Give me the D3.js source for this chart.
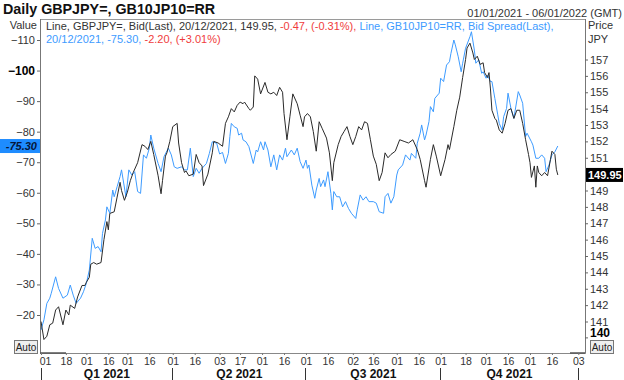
<!DOCTYPE html>
<html><head><meta charset="utf-8">
<script src="https://cdn.jsdelivr.net/npm/d3@7"></script>
<style>
body{margin:0;background:#fff;}
svg{display:block;font-family:"Liberation Sans",Arial,sans-serif;}
</style>
</head><body>
<svg id="c" width="624" height="380"></svg>
<script>
// GBPJPY= Bid(Last), right axis (JPY)
const gbpDates = ["2021-01-01","2021-01-03","2021-01-05","2021-01-07","2021-01-09","2021-01-11","2021-01-13","2021-01-16","2021-01-18","2021-01-20","2021-01-21","2021-01-24","2021-01-26","2021-01-29","2021-01-31","2021-02-01","2021-02-03","2021-02-04","2021-02-06","2021-02-08","2021-02-11","2021-02-13","2021-02-15","2021-02-16","2021-02-17","2021-02-20","2021-02-22","2021-02-24","2021-02-25","2021-02-27","2021-03-01","2021-03-03","2021-03-05","2021-03-08","2021-03-11","2021-03-13","2021-03-15","2021-03-17","2021-03-19","2021-03-22","2021-03-24","2021-03-25","2021-03-27","2021-03-28","2021-03-30","2021-04-01","2021-04-04","2021-04-05","2021-04-07","2021-04-09","2021-04-10","2021-04-12","2021-04-15","2021-04-17","2021-04-19","2021-04-21","2021-04-22","2021-04-25","2021-04-28","2021-04-29","2021-05-02","2021-05-05","2021-05-07","2021-05-09","2021-05-11","2021-05-13","2021-05-15","2021-05-17","2021-05-19","2021-05-20","2021-05-23","2021-05-24","2021-05-26","2021-05-27","2021-05-29","2021-05-31","2021-06-03","2021-06-05","2021-06-07","2021-06-09","2021-06-11","2021-06-13","2021-06-15","2021-06-16","2021-06-18","2021-06-20","2021-06-22","2021-06-25","2021-06-27","2021-06-29","2021-06-30","2021-07-02","2021-07-04","2021-07-06","2021-07-08","2021-07-10","2021-07-12","2021-07-15","2021-07-17","2021-07-19","2021-07-20","2021-07-23","2021-07-25","2021-07-27","2021-07-29","2021-07-31","2021-08-02","2021-08-04","2021-08-06","2021-08-08","2021-08-10","2021-08-12","2021-08-14","2021-08-16","2021-08-18","2021-08-20","2021-08-22","2021-08-24","2021-08-26","2021-08-28","2021-08-31","2021-09-03","2021-09-06","2021-09-09","2021-09-12","2021-09-15","2021-09-17","2021-09-20","2021-09-21","2021-09-24","2021-09-26","2021-09-28","2021-10-01","2021-10-04","2021-10-06","2021-10-07","2021-10-10","2021-10-12","2021-10-14","2021-10-16","2021-10-18","2021-10-19","2021-10-21","2021-10-23","2021-10-24","2021-10-26","2021-10-28","2021-10-30","2021-10-31","2021-11-02","2021-11-03","2021-11-04","2021-11-05","2021-11-07","2021-11-08","2021-11-10","2021-11-12","2021-11-14","2021-11-16","2021-11-18","2021-11-20","2021-11-22","2021-11-24","2021-11-26","2021-11-28","2021-11-30","2021-12-01","2021-12-02","2021-12-04","2021-12-05","2021-12-06","2021-12-07","2021-12-09","2021-12-11","2021-12-13","2021-12-15","2021-12-16","2021-12-18","2021-12-19","2021-12-20"];
const gbpValues = [141.0,139.9,140.1,140.8,140.9,141.7,141.9,140.8,141.7,141.4,142.0,141.8,142.5,143.2,143.2,143.4,143.7,144.5,144.6,144.5,144.6,146.0,147.1,146.6,147.6,147.7,148.6,149.5,149.0,148.4,148.9,149.6,150.1,150.7,151.8,151.7,151.5,152.0,151.2,149.9,148.8,149.6,151.1,151.3,152.0,152.9,153.1,151.9,150.7,150.1,150.2,149.9,150.0,151.2,150.7,150.5,149.3,150.0,151.3,152.0,151.9,151.7,153.1,153.5,154.0,153.8,154.2,154.4,154.3,154.4,154.0,153.9,154.1,156.0,155.8,154.9,155.6,155.0,154.9,155.0,154.8,155.3,155.0,153.7,152.1,153.5,154.9,154.3,153.6,152.9,153.5,153.7,153.5,152.6,151.4,153.2,152.8,152.2,151.3,149.6,150.7,151.8,152.3,152.6,152.9,152.3,151.8,152.3,152.9,152.7,153.2,153.1,152.1,151.1,150.6,149.6,150.1,151.3,151.0,151.2,151.4,152.1,152.0,151.9,152.1,151.5,150.9,149.6,149.2,150.9,151.8,151.1,149.9,150.9,151.8,151.5,152.9,153.9,154.7,155.9,157.0,157.7,158.0,157.4,157.0,157.2,156.7,156.8,156.2,155.9,156.2,155.2,153.9,153.4,153.3,152.7,152.5,153.1,153.9,154.0,153.4,153.9,153.9,153.1,152.1,151.2,150.7,149.8,150.5,149.2,150.5,150.1,149.9,150.1,149.9,150.9,151.4,151.2,150.3,149.95];

// GB10JP10=RR Bid Spread(Last), left axis (Value)
const sprDates = ["2021-01-01","2021-01-03","2021-01-05","2021-01-07","2021-01-08","2021-01-11","2021-01-13","2021-01-16","2021-01-19","2021-01-21","2021-01-23","2021-01-25","2021-01-28","2021-01-30","2021-02-01","2021-02-03","2021-02-05","2021-02-07","2021-02-09","2021-02-11","2021-02-12","2021-02-14","2021-02-15","2021-02-17","2021-02-19","2021-02-20","2021-02-22","2021-02-24","2021-02-25","2021-02-28","2021-03-02","2021-03-04","2021-03-06","2021-03-08","2021-03-10","2021-03-12","2021-03-14","2021-03-16","2021-03-17","2021-03-19","2021-03-22","2021-03-24","2021-03-26","2021-03-29","2021-03-31","2021-04-02","2021-04-04","2021-04-07","2021-04-09","2021-04-11","2021-04-13","2021-04-15","2021-04-17","2021-04-19","2021-04-21","2021-04-24","2021-04-26","2021-04-28","2021-05-01","2021-05-03","2021-05-05","2021-05-07","2021-05-09","2021-05-10","2021-05-11","2021-05-13","2021-05-15","2021-05-16","2021-05-18","2021-05-19","2021-05-21","2021-05-23","2021-05-26","2021-05-28","2021-05-29","2021-05-31","2021-06-02","2021-06-03","2021-06-05","2021-06-07","2021-06-09","2021-06-11","2021-06-13","2021-06-15","2021-06-17","2021-06-18","2021-06-21","2021-06-23","2021-06-25","2021-06-27","2021-06-29","2021-07-01","2021-07-02","2021-07-03","2021-07-05","2021-07-07","2021-07-08","2021-07-10","2021-07-11","2021-07-13","2021-07-14","2021-07-16","2021-07-18","2021-07-19","2021-07-20","2021-07-22","2021-07-24","2021-07-26","2021-07-28","2021-07-30","2021-08-01","2021-08-04","2021-08-05","2021-08-07","2021-08-09","2021-08-11","2021-08-13","2021-08-16","2021-08-18","2021-08-20","2021-08-23","2021-08-24","2021-08-26","2021-08-28","2021-08-30","2021-09-01","2021-09-02","2021-09-05","2021-09-07","2021-09-10","2021-09-11","2021-09-14","2021-09-15","2021-09-17","2021-09-18","2021-09-20","2021-09-21","2021-09-23","2021-09-24","2021-09-26","2021-09-27","2021-09-30","2021-10-01","2021-10-03","2021-10-05","2021-10-07","2021-10-08","2021-10-10","2021-10-11","2021-10-13","2021-10-15","2021-10-16","2021-10-18","2021-10-21","2021-10-22","2021-10-24","2021-10-25","2021-10-27","2021-10-29","2021-10-30","2021-11-01","2021-11-02","2021-11-04","2021-11-05","2021-11-07","2021-11-09","2021-11-10","2021-11-12","2021-11-13","2021-11-15","2021-11-16","2021-11-18","2021-11-20","2021-11-23","2021-11-24","2021-11-26","2021-11-28","2021-11-29","2021-12-02","2021-12-03","2021-12-05","2021-12-07","2021-12-09","2021-12-11","2021-12-12","2021-12-14","2021-12-16","2021-12-18","2021-12-20"];
const sprValues = [-15.1,-18.4,-23.8,-25.5,-27.1,-32.5,-28.7,-25.5,-26.5,-29.8,-26.5,-23.8,-25.5,-27.6,-30.4,-34.7,-45.1,-41.8,-42.4,-40.7,-46.7,-51.1,-55.4,-53.3,-60.9,-58.7,-62.0,-65.3,-67.5,-58.7,-67.5,-65.8,-66.9,-60.4,-59.8,-72.4,-71.3,-74.6,-78.9,-74.6,-69.6,-66.9,-71.8,-74.6,-72.4,-68.5,-68.0,-68.5,-67.5,-67.5,-74.6,-65.3,-68.0,-66.4,-68.0,-69.6,-72.9,-76.7,-76.2,-72.7,-73.2,-69.6,-72.9,-78.4,-82.7,-81.6,-81.1,-78.9,-79.5,-77.3,-76.7,-75.1,-69.6,-74.0,-73.4,-76.7,-74.0,-76.7,-74.0,-68.5,-72.4,-67.5,-72.4,-70.7,-74.6,-71.8,-74.0,-72.4,-74.6,-70.2,-68.0,-70.7,-68.0,-69.1,-62.5,-58.2,-60.9,-64.7,-62.0,-64.2,-62.0,-66.9,-59.8,-54.4,-60.4,-58.7,-58.7,-55.4,-57.1,-54.9,-53.3,-51.6,-54.4,-59.3,-57.6,-58.7,-57.1,-57.1,-56.6,-53.8,-53.3,-58.7,-59.8,-56.6,-58.7,-65.8,-67.5,-69.1,-72.4,-70.7,-72.9,-71.3,-76.2,-79.5,-82.2,-77.3,-78.9,-83.3,-88.2,-86.5,-90.9,-92.6,-97.5,-96.4,-101.8,-102.9,-105.6,-110.0,-108.4,-104.5,-99.6,-102.4,-107.3,-111.1,-112.7,-106.7,-102.4,-103.5,-99.1,-99.6,-97.5,-98.5,-96.4,-96.4,-90.9,-85.5,-82.7,-80.5,-84.9,-87.6,-92.6,-87.6,-84.4,-93.1,-92.0,-89.3,-78.4,-79.5,-76.7,-75.6,-71.3,-71.3,-72.4,-71.3,-66.9,-69.1,-72.4,-73.4,-75.30];

const valueTicks = [-110,-100,-90,-80,-70,-60,-50,-40,-30,-20];
const priceTicks = [141,142,143,144,145,146,147,148,149,151,152,153,154,155,156,157];
const xTickDates = ["2021-01-01","2021-01-18","2021-02-01","2021-02-16","2021-03-01","2021-03-16","2021-04-01","2021-04-16","2021-05-03","2021-05-17","2021-06-01","2021-06-16","2021-07-01","2021-07-16","2021-08-02","2021-08-16","2021-09-01","2021-09-16","2021-10-01","2021-10-18","2021-11-01","2021-11-16","2021-12-01","2021-12-16","2022-01-03"];
const quarterLabels = ["Q1 2021","Q2 2021","Q3 2021","Q4 2021"];
const quarterBounds = ["2021-01-01","2021-04-01","2021-07-01","2021-10-01","2022-01-03"];

const titleText = "Daily GBPJPY=, GB10JP10=RR";
const rangeText = "01/01/2021 - 06/01/2022 (GMT)";
const lastValue = -75.30, lastPrice = 149.95;

const parse = d3.utcParse("%Y-%m-%d");
const svg = d3.select("#c");
const L = 40, R = 585, T = 19, B = 353;

const x = d3.scaleUtc().domain([parse("2021-01-01"), parse("2022-01-03")]).range([41, 578.3]);
const yL = d3.scaleLinear().domain([-110, -20]).range([40, 315]);
const yR = d3.scaleLinear().domain([157, 141]).range([59.5, 321.5]);

const BLUE = "#3d9bff", BLACK = "#2a2a2a", RED = "#f03c3c", TXT = "#333";

// title
svg.append("text").attr("x", 3).attr("y", 13.5).attr("font-size", 14.3).attr("font-weight", "bold").attr("fill", "#111").text(titleText);
svg.append("text").attr("x", 622).attr("y", 17).attr("text-anchor", "end").attr("font-size", 11).attr("fill", TXT).text(rangeText);

// frame
svg.append("rect").attr("x", L).attr("y", T).attr("width", R - L).attr("height", B - T)
  .attr("fill", "none").attr("stroke", "#9a9a9a").attr("stroke-width", 1).attr("shape-rendering", "crispEdges");
svg.append("line").attr("x1", L).attr("x2", L).attr("y1", T).attr("y2", B).attr("stroke", "#777").attr("shape-rendering", "crispEdges");
svg.append("line").attr("x1", R).attr("x2", R).attr("y1", T).attr("y2", B).attr("stroke", "#777").attr("shape-rendering", "crispEdges");
svg.append("line").attr("x1", L).attr("x2", R).attr("y1", B).attr("y2", B).attr("stroke", "#888").attr("shape-rendering", "crispEdges");
svg.append("line").attr("x1", L).attr("x2", 66).attr("y1", B).attr("y2", B).attr("stroke", "#555").attr("stroke-width", 1.5);
svg.append("line").attr("x1", 570).attr("x2", R).attr("y1", B).attr("y2", B).attr("stroke", "#555").attr("stroke-width", 1.5);

// clip
svg.append("clipPath").attr("id", "clip").append("rect").attr("x", L + 0.5).attr("y", T + 0.5).attr("width", R - L - 1).attr("height", B - T - 1);

// lines
const gbp = gbpDates.map((d, i) => ({ d: parse(d), v: gbpValues[i] }));
const spr = sprDates.map((d, i) => ({ d: parse(d), v: sprValues[i] }));
const plot = svg.append("g").attr("clip-path", "url(#clip)");
plot.append("path").datum(spr).attr("fill", "none").attr("stroke", BLUE).attr("stroke-width", 1)
  .attr("d", d3.line().x(p => x(p.d)).y(p => yL(p.v)));
plot.append("path").datum(gbp).attr("fill", "none").attr("stroke", BLACK).attr("stroke-width", 1)
  .attr("d", d3.line().x(p => x(p.d)).y(p => yR(p.v)));

// legend
const lg = svg.append("text").attr("x", 46).attr("y", 30).attr("font-size", 11);
lg.append("tspan").attr("fill", TXT).text("Line, GBPJPY=, Bid(Last), 20/12/2021, 149.95, ");
lg.append("tspan").attr("fill", RED).text("-0.47, (-0.31%), ");
lg.append("tspan").attr("fill", BLUE).text("Line, GB10JP10=RR, Bid Spread(Last),");
const lg2 = svg.append("text").attr("x", 46).attr("y", 43).attr("font-size", 11);
lg2.append("tspan").attr("fill", BLUE).text("20/12/2021, -75.30, ");
lg2.append("tspan").attr("fill", RED).text("-2.20, (+3.01%)");

// left axis
svg.append("text").attr("x", 37).attr("y", 29).attr("text-anchor", "end").attr("font-size", 11).attr("fill", TXT).text("Value");
const la = svg.append("g").attr("transform", `translate(${L},0)`)
  .call(d3.axisLeft(yL).tickValues(valueTicks).tickSize(3).tickPadding(2).tickFormat(d3.format("d")));
la.select(".domain").remove();
la.selectAll(".tick line").attr("stroke", "#666");
la.selectAll(".tick text").attr("font-size", 11).attr("fill", TXT).attr("font-family", null)
  .filter(d => d === -100).attr("font-weight", "bold").attr("fill", "#000").attr("font-size", 12);

// right axis
svg.append("text").attr("x", 588).attr("y", 29).attr("font-size", 11).attr("fill", TXT).text("Price");
svg.append("text").attr("x", 588).attr("y", 43).attr("font-size", 11).attr("fill", TXT).text("JPY");
const ra = svg.append("g").attr("transform", `translate(${R},0)`)
  .call(d3.axisRight(yR).tickValues(priceTicks).tickSize(3).tickPadding(2).tickFormat(d3.format("d")));
ra.select(".domain").remove();
ra.selectAll(".tick line").attr("stroke", "#666");
ra.selectAll(".tick text").attr("font-size", 11).attr("fill", TXT).attr("font-family", null);
svg.append("line").attr("x1", R).attr("x2", R + 3).attr("y1", yR(140)).attr("y2", yR(140)).attr("stroke", "#666");
svg.append("text").attr("x", 590).attr("y", 337).attr("font-size", 12).attr("font-weight", "bold").attr("fill", "#000").text("140");

// last value markers
const yv = yL(lastValue);
svg.append("rect").attr("x", 0).attr("y", yv - 7).attr("width", L).attr("height", 14).attr("fill", "#1e8cff");
svg.append("text").attr("x", 37).attr("y", yv + 4).attr("text-anchor", "end").attr("font-size", 11)
  .attr("font-weight", "bold").attr("font-style", "italic").attr("fill", "#05163a").text(lastValue.toFixed(2));
const yp = yR(lastPrice);
svg.append("rect").attr("x", R + 1).attr("y", yp - 7).attr("width", 37).attr("height", 14).attr("fill", "#000");
svg.append("text").attr("x", R + 3).attr("y", yp + 4).attr("font-size", 11).attr("font-weight", "bold").attr("fill", "#fff").text(lastPrice.toFixed(2));

// Auto buttons
[[14, 340], [590, 340]].forEach(([bx, by]) => {
  svg.append("rect").attr("x", bx + 0.5).attr("y", by + 0.5).attr("width", 23).attr("height", 13)
    .attr("fill", "#efefef").attr("stroke", "#777");
  svg.append("text").attr("x", bx + 12).attr("y", by + 10.5).attr("text-anchor", "middle").attr("font-size", 10).attr("fill", "#222").text("Auto");
});

// bottom axis
const xt = xTickDates.map(parse);
const ba = svg.append("g").attr("transform", `translate(0,${B})`)
  .call(d3.axisBottom(x).tickValues(xt).tickSize(2).tickPadding(3).tickFormat(d3.utcFormat("%d")));
ba.select(".domain").remove();
ba.selectAll(".tick line").attr("stroke", "#777");
ba.selectAll(".tick text").attr("font-size", 10.5).attr("fill", TXT).attr("font-family", null);
ba.selectAll(".tick text").filter((d, i) => i === 0).attr("dx", 4);

// quarters
const qb = quarterBounds.map(parse);
qb.forEach(d => {
  svg.append("line").attr("x1", x(d)).attr("x2", x(d)).attr("y1", 368).attr("y2", 380)
    .attr("stroke", "#333").attr("stroke-width", 1).attr("shape-rendering", "crispEdges");
});
quarterLabels.forEach((q, i) => {
  svg.append("text").attr("x", (x(qb[i]) + x(qb[i + 1])) / 2).attr("y", 378).attr("text-anchor", "middle")
    .attr("font-size", 12).attr("font-weight", "bold").attr("fill", "#111").text(q);
});
</script>
</body></html>
